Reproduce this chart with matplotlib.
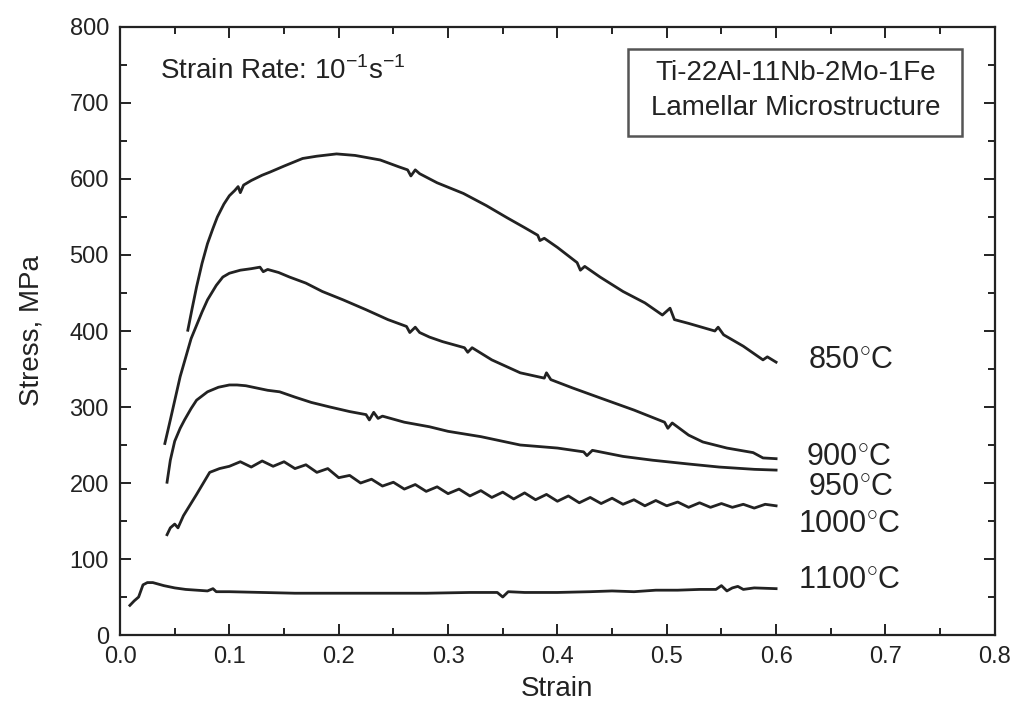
import matplotlib
matplotlib.use("Agg")
import matplotlib.pyplot as plt
from matplotlib import font_manager
from matplotlib.patches import Rectangle
from matplotlib.ticker import MultipleLocator

# stress-strain curves (strain, MPa)
strain_850 = [0.062, 0.066, 0.070, 0.075, 0.080, 0.085, 0.089, 0.095, 0.100, 0.105, 0.108, 0.110, 0.113,
              0.120, 0.130, 0.137, 0.150, 0.167, 0.180, 0.198, 0.215, 0.238, 0.255, 0.263, 0.266, 0.270,
              0.274, 0.290, 0.314, 0.335, 0.354, 0.370, 0.382, 0.384, 0.388, 0.400, 0.418, 0.421, 0.425,
              0.439, 0.460, 0.480, 0.496, 0.503, 0.507, 0.520, 0.544, 0.547, 0.552, 0.570, 0.588, 0.592, 0.600]
stress_850 = [401, 430, 458, 489, 515, 535, 550, 567, 578, 585, 590, 582, 592,
              598, 605, 609, 617, 627, 630, 633, 631, 625, 616, 612, 604, 612,
              607, 595, 581, 565, 549, 536, 526, 519, 522, 510, 490, 480, 485,
              471, 452, 437, 421, 430, 415, 410, 400, 405, 395, 380, 362, 366, 359]

strain_900 = [0.041, 0.046, 0.055, 0.065, 0.075, 0.080, 0.088, 0.094, 0.100, 0.110, 0.120, 0.128, 0.131,
              0.135, 0.145, 0.155, 0.170, 0.185, 0.204, 0.225, 0.245, 0.262, 0.265, 0.270, 0.274, 0.283,
              0.295, 0.315, 0.318, 0.322, 0.340, 0.366, 0.388, 0.390, 0.394, 0.414, 0.439, 0.470, 0.498,
              0.501, 0.505, 0.520, 0.533, 0.555, 0.579, 0.588, 0.600]
stress_900 = [252, 283, 340, 390, 425, 441, 460, 471, 476, 480, 482, 484, 478,
              481, 477, 471, 463, 452, 441, 428, 415, 406, 398, 405, 398, 392,
              386, 378, 372, 378, 362, 345, 338, 345, 336, 325, 312, 296, 280,
              272, 279, 263, 254, 246, 240, 233, 232]

strain_950 = [0.043, 0.046, 0.050, 0.055, 0.059, 0.065, 0.070, 0.080, 0.090, 0.100, 0.107, 0.115, 0.125,
              0.135, 0.146, 0.160, 0.175, 0.192, 0.210, 0.225, 0.228, 0.232, 0.236, 0.240, 0.260, 0.283,
              0.300, 0.330, 0.366, 0.400, 0.424, 0.427, 0.432, 0.460, 0.487, 0.520, 0.548, 0.580, 0.600]
stress_950 = [201, 230, 255, 272, 283, 298, 309, 320, 326, 329, 329, 328, 325,
              322, 320, 313, 306, 300, 294, 290, 283, 293, 285, 288, 280, 274,
              268, 261, 250, 246, 241, 236, 243, 235, 230, 225, 221, 218, 217]

strain_1000 = [0.043, 0.046, 0.050, 0.053, 0.058, 0.070, 0.082, 0.091, 0.100, 0.110, 0.120, 0.130, 0.140,
               0.150, 0.160, 0.170, 0.180, 0.190, 0.200, 0.210, 0.220, 0.230, 0.240, 0.250, 0.260, 0.270,
               0.280, 0.290, 0.300, 0.310, 0.320, 0.330, 0.340, 0.350, 0.360, 0.370, 0.380, 0.390, 0.400,
               0.410, 0.420, 0.430, 0.440, 0.450, 0.460, 0.470, 0.480, 0.490, 0.500, 0.510, 0.520, 0.530,
               0.540, 0.550, 0.560, 0.570, 0.580, 0.590, 0.600]
stress_1000 = [132, 141, 146, 141, 157, 185, 214, 219, 222, 228, 221, 229, 222,
               228, 219, 224, 214, 219, 207, 210, 200, 205, 196, 201, 192, 198,
               189, 195, 186, 192, 183, 190, 181, 188, 179, 187, 178, 185, 176,
               183, 174, 181, 173, 180, 172, 178, 170, 177, 170, 175, 168, 174,
               168, 173, 168, 172, 167, 172, 170]

strain_1100 = [0.009, 0.013, 0.017, 0.021, 0.025, 0.030, 0.035, 0.040, 0.050, 0.060, 0.070, 0.080, 0.085,
               0.088, 0.100, 0.130, 0.160, 0.200, 0.240, 0.280, 0.320, 0.345, 0.350, 0.355, 0.370, 0.400,
               0.430, 0.450, 0.470, 0.490, 0.510, 0.530, 0.545, 0.550, 0.555, 0.560, 0.565, 0.570, 0.580, 0.600]
stress_1100 = [39, 45, 50, 66, 69, 69, 67, 65, 62, 60, 59, 58, 61,
               57, 57, 56, 55, 55, 55, 55, 56, 56, 50, 57, 56, 56,
               57, 58, 57, 59, 59, 60, 60, 65, 58, 62, 64, 60, 62, 61]

curves = [(strain_850, stress_850), (strain_900, stress_900), (strain_950, stress_950),
          (strain_1000, stress_1000), (strain_1100, stress_1100)]

temp_labels = ["850", "900", "950", "1000", "1100"]
label_pos = [(0.629, 362), (0.627, 234), (0.629, 195), (0.620, 146), (0.620, 72)]

# narrow sans looks closest to the squeezed original
names = {f.name for f in font_manager.fontManager.ttflist}
family = "Liberation Sans Narrow" if "Liberation Sans Narrow" in names else "Liberation Sans"
plt.rcParams["font.family"] = [family, "DejaVu Sans"]
plt.rcParams["mathtext.fontset"] = "custom"
plt.rcParams["mathtext.rm"] = family

fig = plt.figure(figsize=(10.12, 7.1), dpi=100)
ax = fig.add_axes([0.1186, 0.1056, 0.8644, 0.8564])

ink = "#222222"
for x, y in curves:
    ax.plot(x, y, color=ink, lw=2.0)

for t, (lx, ly) in zip(temp_labels, label_pos):
    ax.text(lx, ly, t + r"$^{\circ}$C", fontsize=22, color=ink, va="center", ha="left")

ax.text(0.037, 743, "Strain Rate: 10$^{\\mathrm{-1}}$s$^{\\mathrm{-1}}$", fontsize=20, color=ink, va="center")

# sample box, drawn in axes fraction
ax.add_patch(Rectangle((0.581, 0.821), 0.382, 0.143, transform=ax.transAxes,
                       fc="white", ec="#555555", lw=1.8, zorder=3))
ax.text(0.772, 0.924, "Ti-22Al-11Nb-2Mo-1Fe", transform=ax.transAxes, fontsize=20,
        color=ink, ha="center", va="center", zorder=4)
ax.text(0.772, 0.866, "Lamellar Microstructure", transform=ax.transAxes, fontsize=20,
        color=ink, ha="center", va="center", zorder=4)

ax.set_xlim(0, 0.8)
ax.set_ylim(0, 800)
ax.xaxis.set_major_locator(MultipleLocator(0.1))
ax.xaxis.set_minor_locator(MultipleLocator(0.05))
ax.yaxis.set_major_locator(MultipleLocator(100))
ax.yaxis.set_minor_locator(MultipleLocator(50))
ax.xaxis.set_major_formatter(lambda v, p: f"{v:.1f}")
ax.tick_params(which="both", direction="in", top=True, right=True, color=ink, width=1.4)
ax.tick_params(which="major", length=8, labelsize=17, labelcolor=ink, pad=8)
ax.tick_params(which="minor", length=5)
for s in ax.spines.values():
    s.set_linewidth(1.6)
    s.set_color(ink)

ax.set_xlabel("Strain", fontsize=20, color=ink, labelpad=6)
ax.set_ylabel("Stress, MPa", fontsize=20, color=ink, labelpad=18)

fig.savefig("out.png", dpi=100)
